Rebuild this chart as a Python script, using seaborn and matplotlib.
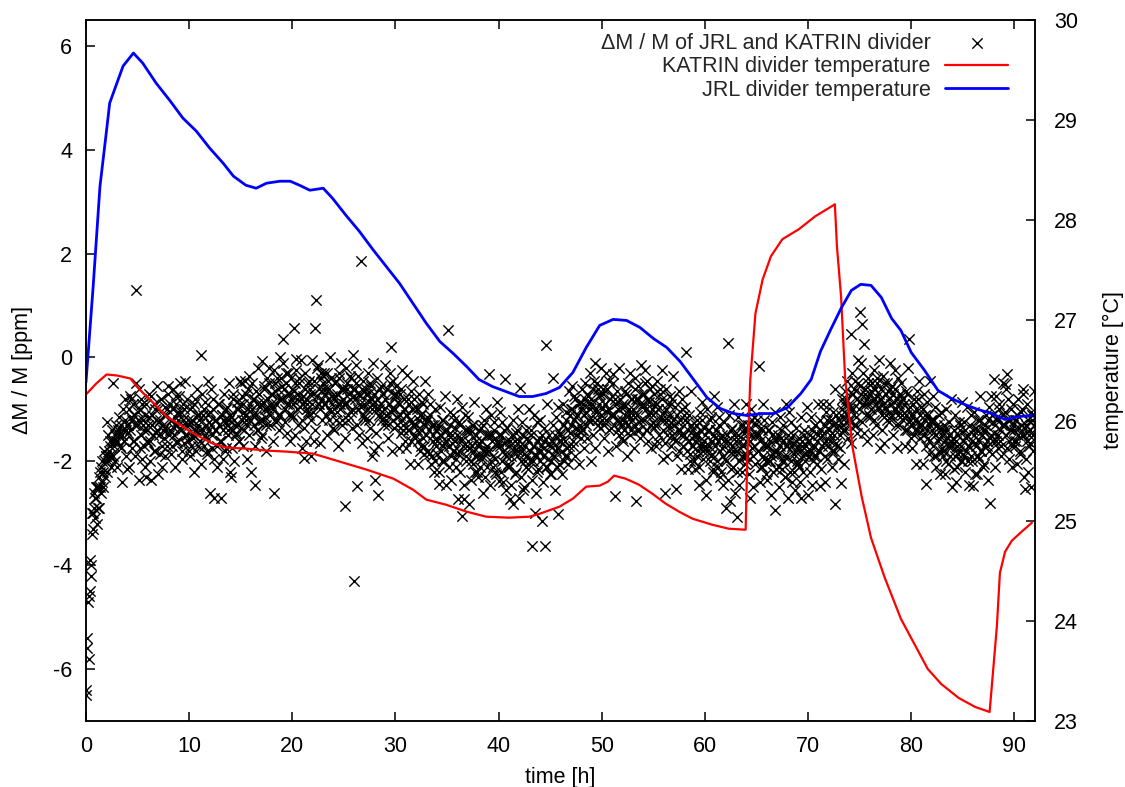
import numpy as np
import pandas as pd
import seaborn as sns
import matplotlib.pyplot as plt

# dM/M of JRL vs KATRIN divider, one reading every 3 min, kept as two
# interleaved lists: readings on the full 6-min grid and the ones between
sample_step_h = 0.1
dm_ppm = [
    -6.5, -5.6, -4.7, -4.6, -3.9, -4.2, -3.0, -3.3, -2.6, -3.1,     # 0 h
    -2.7, -2.5, -2.9, -2.3, -2.5, -2.1, -2.4, -2.2, -2.0, -1.9,
    -1.25, -2.0, -1.8, -1.7, -1.9, -1.6, -0.5, -1.7, -1.5, -1.6,
    -1.6, -1.4, -1.5, -1.7, -1.3, -1.5, -1.4, -1.6, -1.2, -1.4,
    -2.15, -1.3, -1.0, -1.4, -0.8, -1.2, -1.6, -1.1, -1.3, 1.3,
    -1.2, -2.35, -1.0, -1.5, -0.9, -1.3, -1.7, -1.1, -2.3, -1.4,   # 5 h
    -1.3, -0.7, -1.6, -2.35, -1.1, -1.5, -0.9, -1.8, -1.2, -1.4,
    -1.0, -1.5, -1.2, -0.8, -1.7, -1.3, -1.1, -1.9, -1.4, -1.0,
    -0.7, -1.4, -1.2, -1.7, -1.0, -1.5, -1.3, -0.9, -1.6, -1.2,
    -1.1, -0.5, -1.4, -1.8, -1.2, -1.0, -1.5, -1.3, -0.8, -1.6,
    -1.3, -1.0, -1.7, -1.2, -1.5, -0.9, -1.4, -1.8, -1.1, -1.3,    # 10 h
    -1.2, -1.6, 0.05, -1.4, -1.0, -1.5, -1.3, -1.8, -1.1, -1.4,
    -2.6, -1.3, -1.5, -1.0, -2.7, -1.4, -1.2, -1.7, -0.9, -1.3,
    -1.6, -2.7, -1.1, -1.4, -1.2, -1.8, -1.0, -1.3, -1.5, -1.2,
    -1.1, -2.3, -1.4, -0.8, -1.2, -1.5, -1.0, -1.3, -1.6, -0.9,
    -0.5, -1.2, -0.9, -1.4, -1.1, -0.7, -1.3, -1.0, -0.35, -1.2,   # 15 h
    -2.2, -1.0, -0.8, -1.3, -2.45, -1.1, -0.9, -1.4, -0.7, -1.2,
    -0.9, -0.06, -1.2, -0.6, -1.0, -1.3, -0.8, -0.5, -1.1, -0.9,
    -0.7, -1.0, -2.6, -0.5, -0.9, -1.2, -0.6, -0.8, -1.1, -0.4,
    -0.8, 0.35, -0.6, -1.0, -0.5, -0.9, -0.3, -1.1, -0.7, -0.8,
    -0.6, -0.9, 0.57, -0.5, -0.03, -1.0, -0.7, -0.4, -0.8, -1.2,   # 20 h
    -0.9, -1.93, -0.6, -0.8, -1.0, -0.5, -1.1, -0.7, -1.9, -0.9,
    -0.7, -1.6, 0.57, 1.1, -0.2, -0.9, -0.6, -1.0, -0.4, -0.8,
    -0.5, -0.9, -0.7, -1.1, -0.3, -0.8, -0.6, -1.0, -0.4, -0.9,
    -0.8, -0.5, -1.2, -0.7, -0.9, -0.4, -1.0, -0.6, -1.3, -0.8,
    -0.6, -2.86, -0.9, -0.5, -1.1, -0.7, -0.8, -0.4, -1.0, -0.6,   # 25 h
    -4.3, -0.8, -0.5, -2.47, -1.0, -0.7, -0.9, 1.86, -0.6, -1.1,
    -0.9, -0.6, -1.0, -0.7, -1.2, -0.5, -0.8, -1.9, -0.9, -0.7,
    -2.35, -1.0, -0.8, -2.64, -1.1, -0.6, -0.9, -1.2, -0.7, -1.0,
    -0.8, -1.1, -0.6, -1.3, -0.9, -0.5, 0.21, -1.0, -1.2, -0.7,
    -1.0, -0.7, -1.3, -0.9, -1.1, -0.6, -1.2, -1.4, -0.8, -1.0,    # 30 h
    -1.1, -0.33, -1.4, -0.9, -1.2, -1.6, -1.0, -1.3, -0.8, -1.5,
    -1.3, -1.0, -1.6, -1.2, -1.8, -1.1, -1.4, -0.9, -1.7, -1.3,
    -1.5, -1.2, -1.8, -1.4, -1.1, -1.9, -1.6, -1.3, -2.0, -1.4,
    -1.6, -1.3, -2.44, -1.5, -1.8, -1.2, -1.7, -2.0, -1.4, -1.6,
    -1.4, 0.53, -1.7, -1.3, -1.9, -1.5, -1.1, -1.8, -1.6, -2.1,    # 35 h
    -1.5, -2.73, -1.8, -1.3, -1.6, -3.05, -2.73, -1.4, -1.9, -1.7,
    -1.6, -2.83, -1.4, -2.0, -1.7, -1.3, -1.8, -2.2, -1.5, -1.9,
    -1.7, -1.4, -2.1, -1.6, -1.9, -1.3, -1.8, -2.3, -1.5, -1.7,
    -1.8, -0.32, -1.5, -2.0, -1.6, -1.9, -1.4, -2.2, -1.7, -1.6,
    -2.38, -1.7, -1.5, -2.0, -1.8, -1.4, -0.42, -1.9, -1.6, -2.1,  # 40 h
    -1.7, -2.73, -1.9, -1.5, -2.83, -1.8, -1.6, -2.2, -1.4, -1.8,
    -1.6, -0.58, -2.0, -1.8, -1.5, -2.5, -1.7, -2.1, -1.9, -1.6,
    -1.8, -1.5, -3.63, -2.0, -1.7, -2.99, -1.9, -2.2, -1.6, -1.8,
    -2.0, -1.7, -3.15, -1.9, -1.6, -3.63, 0.24, -2.1, -1.8, -1.5,
    -1.7, -2.0, -1.6, -0.39, -1.9, -1.5, -1.8, -2.1, -3.02, -1.6,  # 45 h
    -1.5, -1.8, -1.3, -2.0, -1.6, -1.2, -1.9, -1.4, -1.7, -1.1,
    -1.3, -1.0, -1.6, -1.2, -0.8, -1.5, -1.1, -1.4, -0.9, -1.3,
    -1.0, -0.6, -1.4, -1.1, -0.8, -1.3, -0.7, -1.2, -0.9, -1.0,
    -0.8, -1.2, -0.6, -0.1, -1.0, -0.5, -1.3, -0.9, -0.7, -1.1,
    -1.0, -0.7, -1.3, -0.9, -1.2, -0.6, -1.0, -1.4, -0.8, -1.1,    # 50 h
    -1.1, -0.32, -1.3, -2.67, -0.9, -1.2, -1.0, -1.5, -0.8, -1.3,
    -1.2, -0.9, -1.4, -1.1, -0.7, -1.3, -1.0, -1.5, -0.8, -1.2,
    -1.0, -1.3, -0.6, -2.76, -1.1, -0.8, -1.4, -0.9, -1.2, -0.7,
    -0.9, -1.2, -0.5, -1.0, -1.4, -0.8, -1.1, -0.6, -1.3, -1.0,
    -1.1, -0.7, -1.3, -0.9, -1.6, -1.0, -0.6, -1.2, -0.8, -1.4,    # 55 h
    -1.2, -2.6, -1.0, -1.5, -0.9, -1.3, -1.1, -1.7, -0.8, -1.2,
    -1.3, -1.6, -2.54, -1.1, -1.4, -1.8, -1.2, -1.5, -1.0, -1.7,
    -1.5, -1.2, 0.11, -1.8, -1.4, -1.6, -2.0, -1.3, -1.7, -1.5,
    -1.6, -1.3, -1.9, -1.5, -2.1, -1.4, -1.7, -1.2, -1.8, -1.6,
    -1.5, -2.64, -1.8, -1.4, -1.7, -1.2, -1.9, -1.6, -2.2, -1.5,   # 60 h
    -1.7, -1.4, -2.0, -1.6, -1.3, -1.8, -2.2, -1.5, -1.9, -1.6,
    -2.89, -1.6, 0.28, -1.8, -2.76, -1.4, -1.7, -2.1, -1.5, -1.9,
    -1.8, -3.08, -1.5, -2.0, -1.6, -1.3, -2.2, -1.7, -1.4, -1.9,
    -1.6, -2.0, -1.4, -1.8, -2.7, -1.5, -1.2, -1.9, -1.7, -1.3,
    -1.5, -1.8, -0.16, -1.6, -2.1, -1.4, -1.9, -1.2, -1.7, -2.0,   # 65 h
    -1.7, -1.4, -2.0, -1.6, -1.9, -1.5, -2.2, -1.8, -2.93, -1.6,
    -1.8, -1.5, -2.1, -1.7, -1.4, -2.0, -1.6, -1.9, -2.3, -1.7,
    -1.9, -2.7, -1.6, -2.0, -1.7, -1.5, -2.2, -1.8, -1.6, -2.0,
    -1.7, -2.1, -1.8, -2.7, -1.6, -1.9, -1.5, -2.0, -1.7, -1.8,
    -1.6, -1.9, -1.5, -1.8, -1.4, -2.0, -1.7, -1.3, -1.9, -1.6,    # 70 h
    -1.5, -1.8, -2.47, -1.4, -1.7, -1.3, -1.9, -1.6, -1.2, -1.7,
    -1.4, -1.6, -1.2, -1.8, -1.3, -1.5, -2.83, -1.1, -1.7, -1.3,
    -1.2, -1.5, -2.41, -1.0, -1.3, -0.9, -1.4, -0.8, -1.1, -1.2,
    -0.9, -1.2, 0.45, -0.7, -1.0, -0.6, -1.3, -0.8, -0.5, -1.0,
    0.87, -0.7, 0.64, -0.9, 0.26, -0.6, -1.1, -0.8, -0.5, -0.9,    # 75 h
    -0.7, -1.0, -0.5, -0.8, -1.2, -0.6, -0.9, -0.4, -1.0, -0.7,
    -0.8, -0.6, -1.1, -0.9, -0.5, -1.0, -0.7, -1.2, -0.8, -0.6,
    -0.9, -1.1, -0.7, -1.0, -0.6, -1.3, -0.8, -1.1, -0.9, -0.7,
    -1.0, -0.8, -1.2, -0.9, -1.4, -1.1, -0.7, -1.0, 0.35, -1.2,
    -1.1, -1.3, -0.9, -1.5, -1.2, -1.0, -1.4, -0.8, -1.3, -1.1,    # 80 h
    -1.3, -1.0, -1.5, -1.2, -2.44, -1.4, -1.1, -1.6, -1.3, -1.2,
    -1.4, -1.7, -1.2, -1.5, -1.9, -1.3, -1.6, -1.1, -1.8, -1.4,
    -1.5, -1.8, -1.3, -1.6, -2.0, -1.4, -1.7, -1.5, -1.9, -1.6,
    -1.7, -1.4, -1.9, -1.6, -2.1, -1.5, -1.8, -1.3, -1.7, -2.0,
    -1.6, -1.9, -1.4, -1.8, -1.5, -2.0, -1.7, -1.3, -1.9, -1.6,    # 85 h
    -2.47, -1.5, -2.25, -1.7, -1.4, -1.9, -1.6, -1.2, -1.8, -1.5,
    -1.4, -1.7, -1.3, -1.6, -1.2, -1.8, -2.8, -1.5, -1.1, -1.6,
    -0.42, -1.3, -1.6, -1.2, -1.5, -1.0, -1.4, -1.7, -1.3, -1.1,
    -1.3, -0.51, -1.5, -0.32, -1.2, -1.6, -1.4, -1.0, -1.7, -1.3,
    -1.4, -1.2, -1.6, -1.1, -1.5, -1.8, -1.3, -1.0, -0.71, -1.5,   # 90 h
    -2.54, -1.3, -1.6, -1.2, -1.7, -1.4, -2.5, -1.1, -1.5, -1.3,
]
# readings half way between the ones above (the looser part of the cloud)
dm_ppm_mid = [
    -6.4, -5.4, -5.8, -4.5, -4.0, -3.4, -3.0, -2.9, -2.7, -2.5,    # 0 h
    -3.2, -2.5, -2.9, -2.2, -2.6, -2.0, -2.5, -1.8, -2.3, -1.9,
    -2.2, -1.5, -1.9, -1.6, -2.1, -1.4, -1.9, -1.6, -2.0, -1.3,
    -2.1, -1.45, -1.15, -1.75, -2.4, -1.0, -1.6, -0.8, -1.9, -1.3,
    -1.45, -2.1, -0.75, -1.15, -1.75, -0.9, -1.6, -1.9, -0.5, -1.3,
    -1.05, -0.6, -1.75, -0.8, -1.95, -1.2, -1.4, -2.1, -0.9, -1.6,   # 5 h
    -1.65, -1.15, -2.0, -0.75, -1.3, -1.8, -1.0, -1.45, -0.55, -2.25,
    -1.25, -1.85, -0.8, -2.1, -1.4, -1.55, -0.95, -1.1, -1.7, -0.55,
    -1.5, -0.9, -1.85, -1.2, -0.6, -1.35, -2.1, -0.75, -1.65, -1.05,
    -0.75, -1.35, -1.05, -1.95, -0.9, -1.65, -0.45, -1.5, -1.2, -1.8,
    -1.9, -1.25, -0.95, -1.55, -2.2, -0.8, -1.4, -0.6, -1.7, -1.1,   # 10 h
    -1.4, -2.05, -0.7, -1.1, -1.7, -0.85, -1.55, -1.85, -0.45, -1.25,
    -1.05, -0.6, -1.75, -0.8, -1.95, -1.2, -1.4, -2.1, -0.9, -1.6,
    -1.6, -1.1, -1.95, -0.7, -1.25, -1.75, -0.95, -1.4, -0.5, -2.2,
    -1.15, -1.75, -0.7, -2.0, -1.3, -1.45, -0.85, -1.0, -1.6, -0.45,
    -1.35, -0.75, -1.7, -1.05, -0.45, -1.2, -1.95, -0.6, -1.5, -0.9,  # 15 h
    -0.5, -1.1, -0.8, -1.7, -0.65, -1.4, -0.2, -1.25, -0.95, -1.55,
    -1.5, -0.85, -0.55, -1.15, -1.8, -0.4, -1.0, -0.2, -1.3, -0.7,
    -0.95, -1.6, -0.25, -0.65, -1.25, -0.4, -1.1, -1.4, 0.0, -0.8,
    -0.55, -0.1, -1.25, -0.3, -1.45, -0.7, -0.9, -1.6, -0.4, -1.1,
    -1.15, -0.65, -1.5, -0.25, -0.8, -1.3, -0.5, -0.95, -0.05, -1.75,  # 20 h
    -0.75, -1.35, -0.3, -1.6, -0.9, -1.05, -0.45, -0.6, -1.2, -0.05,
    -1.05, -0.45, -1.4, -0.75, -0.15, -0.9, -1.65, -0.3, -1.2, -0.6,
    -0.3, -0.9, -0.6, -1.5, -0.45, -1.2, 0.0, -1.05, -0.75, -1.35,
    -1.4, -0.75, -0.45, -1.05, -1.7, -0.3, -0.9, -0.1, -1.2, -0.6,
    -0.9, -1.55, -0.2, -0.6, -1.2, -0.35, -1.05, -1.35, 0.05, -0.75,   # 25 h
    -0.6, -0.15, -1.3, -0.35, -1.5, -0.75, -0.95, -1.65, -0.45, -1.15,
    -1.2, -0.7, -1.55, -0.3, -0.85, -1.35, -0.55, -1.0, -0.1, -1.8,
    -0.85, -1.45, -0.4, -1.7, -1.0, -1.15, -0.55, -0.7, -1.3, -0.15,
    -1.2, -0.6, -1.55, -0.9, -0.3, -1.05, -1.8, -0.45, -1.35, -0.75,
    -0.55, -1.15, -0.85, -1.75, -0.7, -1.45, -0.25, -1.3, -1.0, -1.6,  # 30 h
    -1.75, -1.1, -0.8, -1.4, -2.05, -0.65, -1.25, -0.45, -1.55, -0.95,
    -1.4, -2.05, -0.7, -1.1, -1.7, -0.85, -1.55, -1.85, -0.45, -1.25,
    -1.15, -0.7, -1.85, -0.9, -2.05, -1.3, -1.5, -2.2, -1.0, -1.7,
    -1.85, -1.35, -2.2, -0.95, -1.5, -2.0, -1.2, -1.65, -0.75, -2.45,
    -1.5, -2.1, -1.05, -2.35, -1.65, -1.8, -1.2, -1.35, -1.95, -0.8,   # 35 h
    -1.85, -1.25, -2.2, -1.55, -0.95, -1.7, -2.45, -1.1, -2.0, -1.4,
    -1.15, -1.75, -1.45, -2.35, -1.3, -2.05, -0.85, -1.9, -1.6, -2.2,
    -2.3, -1.65, -1.35, -1.95, -2.6, -1.2, -1.8, -1.0, -2.1, -1.5,
    -1.8, -2.45, -1.1, -1.5, -2.1, -1.25, -1.95, -2.25, -0.85, -1.65,
    -1.5, -1.05, -2.2, -1.25, -2.4, -1.65, -1.85, -2.55, -1.35, -2.05,  # 40 h
    -2.1, -1.6, -2.45, -1.2, -1.75, -2.25, -1.45, -1.9, -1.0, -2.7,
    -1.7, -2.3, -1.25, -2.55, -1.85, -2.0, -1.4, -1.55, -2.15, -1.0,
    -2.0, -1.4, -2.35, -1.7, -1.1, -1.85, -2.6, -1.25, -2.15, -1.55,
    -1.2, -1.8, -1.5, -2.4, -1.35, -2.1, -0.9, -1.95, -1.65, -2.25,
    -2.25, -1.6, -1.3, -1.9, -2.55, -1.15, -1.75, -0.95, -2.05, -1.45,  # 45 h
    -1.6, -2.25, -0.9, -1.3, -1.9, -1.05, -1.75, -2.05, -0.65, -1.45,
    -1.0, -0.55, -1.7, -0.75, -1.9, -1.15, -1.35, -2.05, -0.85, -1.55,
    -1.4, -0.9, -1.75, -0.5, -1.05, -1.55, -0.75, -1.2, -0.3, -2.0,
    -0.9, -1.5, -0.45, -1.75, -1.05, -1.2, -0.6, -0.75, -1.35, -0.2,
    -1.2, -0.6, -1.55, -0.9, -0.3, -1.05, -1.8, -0.45, -1.35, -0.75,   # 50 h
    -0.5, -1.1, -0.8, -1.7, -0.65, -1.4, -0.2, -1.25, -0.95, -1.55,
    -1.6, -0.95, -0.65, -1.25, -1.9, -0.5, -1.1, -0.3, -1.4, -0.8,
    -1.1, -1.75, -0.4, -0.8, -1.4, -0.55, -1.25, -1.55, -0.15, -0.95,
    -0.7, -0.25, -1.4, -0.45, -1.6, -0.85, -1.05, -1.75, -0.55, -1.25,
    -1.35, -0.85, -1.7, -0.45, -1.0, -1.5, -0.7, -1.15, -0.25, -1.95,  # 55 h
    -1.05, -1.65, -0.6, -1.9, -1.2, -1.35, -0.75, -0.9, -1.5, -0.35,
    -1.55, -0.95, -1.9, -1.25, -0.65, -1.4, -2.15, -0.8, -1.7, -1.1,
    -0.95, -1.55, -1.25, -2.15, -1.1, -1.85, -0.65, -1.7, -1.4, -2.0,
    -2.15, -1.5, -1.2, -1.8, -2.45, -1.05, -1.65, -0.85, -1.95, -1.35,
    -1.7, -2.35, -1.0, -1.4, -2.0, -1.15, -1.85, -2.15, -0.75, -1.55,  # 60 h
    -1.4, -0.95, -2.1, -1.15, -2.3, -1.55, -1.75, -2.45, -1.25, -1.95,
    -2.0, -1.5, -2.35, -1.1, -1.65, -2.15, -1.35, -1.8, -0.9, -2.6,
    -1.6, -2.2, -1.15, -2.45, -1.75, -1.9, -1.3, -1.45, -2.05, -0.9,
    -1.9, -1.3, -2.25, -1.6, -1.0, -1.75, -2.5, -1.15, -2.05, -1.45,
    -1.2, -1.8, -1.5, -2.4, -1.35, -2.1, -0.9, -1.95, -1.65, -2.25,    # 65 h
    -2.35, -1.7, -1.4, -2.0, -2.65, -1.25, -1.85, -1.05, -2.15, -1.55,
    -1.85, -2.5, -1.15, -1.55, -2.15, -1.3, -2.0, -2.3, -0.9, -1.7,
    -1.5, -1.05, -2.2, -1.25, -2.4, -1.65, -1.85, -2.55, -1.35, -2.05,
    -2.05, -1.55, -2.4, -1.15, -1.7, -2.2, -1.4, -1.85, -0.95, -2.65,
    -1.6, -2.2, -1.15, -2.45, -1.75, -1.9, -1.3, -1.45, -2.05, -0.9,   # 70 h
    -1.8, -1.2, -2.15, -1.5, -0.9, -1.65, -2.4, -1.05, -1.95, -1.35,
    -0.9, -1.5, -1.2, -2.1, -1.05, -1.8, -0.6, -1.65, -1.35, -1.95,
    -1.75, -1.1, -0.8, -1.4, -2.05, -0.65, -1.25, -0.45, -1.55, -0.95,
    -1.0, -1.65, -0.3, -0.7, -1.3, -0.45, -1.15, -1.45, -0.05, -0.85,
    -0.55, -0.1, -1.25, -0.3, -1.45, -0.7, -0.9, -1.6, -0.4, -1.1,     # 75 h
    -1.15, -0.65, -1.5, -0.25, -0.8, -1.3, -0.5, -0.95, -0.05, -1.75,
    -0.8, -1.4, -0.35, -1.65, -0.95, -1.1, -0.5, -0.65, -1.25, -0.1,
    -1.15, -0.55, -1.5, -0.85, -0.25, -1.0, -1.75, -0.4, -1.3, -0.7,
    -0.5, -1.1, -0.8, -1.7, -0.65, -1.4, -0.2, -1.25, -0.95, -1.55,
    -1.75, -1.1, -0.8, -1.4, -2.05, -0.65, -1.25, -0.45, -1.55, -0.95,  # 80 h
    -1.4, -2.05, -0.7, -1.1, -1.7, -0.85, -1.55, -1.85, -0.45, -1.25,
    -1.2, -0.75, -1.9, -0.95, -2.1, -1.35, -1.55, -2.25, -1.05, -1.75,
    -1.9, -1.4, -2.25, -1.0, -1.55, -2.05, -1.25, -1.7, -0.8, -2.5,
    -1.55, -2.15, -1.1, -2.4, -1.7, -1.85, -1.25, -1.4, -2.0, -0.85,
    -1.85, -1.25, -2.2, -1.55, -0.95, -1.7, -2.45, -1.1, -2.0, -1.4,   # 85 h
    -1.05, -1.65, -1.35, -2.25, -1.2, -1.95, -0.75, -1.8, -1.5, -2.1,
    -2.05, -1.4, -1.1, -1.7, -2.35, -0.95, -1.55, -0.75, -1.85, -1.25,
    -1.45, -2.1, -0.75, -1.15, -1.75, -0.9, -1.6, -1.9, -0.5, -1.3,
    -1.05, -0.6, -1.75, -0.8, -1.95, -1.2, -1.4, -2.1, -0.9, -1.6,
    -1.7, -1.2, -2.05, -0.8, -1.35, -1.85, -1.05, -1.5, -0.6, -2.3,    # 90 h
    -1.35, -1.95, -0.9, -2.2, -1.5, -1.65, -1.05, -1.2, -1.8, -0.65,
]

# KATRIN divider temperature [degC]
katrin_t = [0, 1.0, 2.0, 3.0, 4.3, 5.2, 6.5, 7.8, 9.1, 10.1, 11.0, 12.3, 13.6,
            15.5, 17.5, 19.4, 22.0, 24.6, 27.2, 29.8, 31.7, 33.0, 34.9, 36.9,
            38.8, 41.0, 43.0, 44.0, 45.9, 47.2, 48.5, 49.8, 50.6, 51.2, 52.3,
            53.6, 54.9, 56.2, 57.5, 58.8, 60.7, 62.3, 63.95, 64.1, 64.4, 64.9,
            65.6, 66.4, 67.5, 69.1, 70.7, 72.3, 72.6, 72.8, 73.2, 73.6, 74.3,
            75.2, 76.1, 77.4, 79.0, 80.3, 81.6, 82.9, 84.6, 86.2, 87.6, 88.3,
            88.6, 89.1, 89.75, 90.7, 91.7]
katrin_temp = [26.26, 26.37, 26.46, 26.45, 26.42, 26.31, 26.18, 26.04, 25.96,
               25.89, 25.84, 25.77, 25.73, 25.72, 25.70, 25.69, 25.67, 25.59,
               25.51, 25.42, 25.31, 25.21, 25.16, 25.09, 25.04, 25.03, 25.04,
               25.07, 25.14, 25.22, 25.34, 25.35, 25.39, 25.45, 25.42, 25.36,
               25.27, 25.17, 25.09, 25.02, 24.96, 24.92, 24.91, 25.58, 26.41,
               27.07, 27.41, 27.64, 27.81, 27.91, 28.04, 28.14, 28.16, 27.74,
               27.24, 26.41, 25.74, 25.24, 24.83, 24.44, 24.02, 23.77, 23.52,
               23.37, 23.23, 23.14, 23.09, 23.94, 24.48, 24.69, 24.80, 24.89,
               24.98]

# JRL divider temperature [degC]
jrl_t = [0, 0.7, 1.36, 2.0, 2.3, 3.0, 3.6, 4.6, 5.5, 6.8, 8.1, 9.4, 10.7, 12.0,
         13.3, 14.3, 15.5, 16.5, 17.5, 18.8, 19.8, 20.7, 21.7, 23.0, 23.9, 25.2,
         26.5, 27.8, 29.1, 30.4, 31.7, 33.0, 34.3, 35.6, 36.9, 38.1, 39.4, 40.7,
         42.0, 43.3, 44.6, 45.9, 47.2, 48.5, 49.8, 51.1, 52.4, 53.7, 55.0, 56.3,
         57.6, 58.9, 60.2, 61.5, 62.8, 64.1, 65.4, 66.7, 68.0, 69.3, 70.3, 71.2,
         72.2, 73.2, 74.2, 75.1, 76.1, 77.1, 78.1, 79.0, 80.0, 81.3, 82.6, 83.9,
         85.2, 86.5, 87.8, 89.1, 90.4, 91.7]
jrl_temp = [26.38, 27.34, 28.34, 28.90, 29.17, 29.37, 29.54, 29.67, 29.57,
            29.37, 29.20, 29.02, 28.89, 28.72, 28.57, 28.44, 28.35, 28.32,
            28.37, 28.39, 28.39, 28.35, 28.30, 28.32, 28.22, 28.05, 27.89,
            27.71, 27.54, 27.37, 27.17, 26.97, 26.79, 26.67, 26.54, 26.41,
            26.34, 26.29, 26.24, 26.24, 26.27, 26.33, 26.48, 26.73, 26.95,
            27.01, 27.00, 26.93, 26.82, 26.73, 26.59, 26.41, 26.23, 26.12,
            26.07, 26.05, 26.07, 26.07, 26.13, 26.27, 26.41, 26.69, 26.91,
            27.12, 27.30, 27.36, 27.35, 27.23, 27.02, 26.90, 26.68, 26.50,
            26.30, 26.22, 26.16, 26.11, 26.07, 26.01, 26.04, 26.05]

t_grid = np.arange(len(dm_ppm)) * sample_step_h
dm = pd.concat([
    pd.DataFrame({"time": t_grid, "dm": dm_ppm}),
    pd.DataFrame({"time": t_grid + sample_step_h / 2, "dm": dm_ppm_mid}),
]).sort_values("time")
katrin = pd.DataFrame({"time": katrin_t, "temp": katrin_temp})
jrl = pd.DataFrame({"time": jrl_t, "temp": jrl_temp})

sns.set_style("ticks")
plt.rcParams['font.family'] = ['Liberation Sans', 'DejaVu Sans']
plt.rcParams['axes.unicode_minus'] = False
fs = 15.5

fig, ax = plt.subplots(figsize=(11.25, 7.87), dpi=100)
fig.subplots_adjust(left=0.0764, right=0.92, bottom=0.0839, top=0.9746)
ax2 = ax.twinx()

sns.scatterplot(data=dm, x="time", y="dm", marker="x", color="black", s=55,
                linewidth=1.0, ax=ax, label="ΔM / M of JRL and KATRIN divider",
                legend=False)
sns.lineplot(data=katrin, x="time", y="temp", color="#ff0000", linewidth=1.6,
             estimator=None, sort=False, ax=ax2, label="KATRIN divider temperature")
sns.lineplot(data=jrl, x="time", y="temp", color="#0000ff", linewidth=2.0,
             estimator=None, sort=False, ax=ax2, label="JRL divider temperature")

ax.set_xlim(0, 92)
ax.set_ylim(-7, 6.5)
ax2.set_ylim(23, 30)
ax.set_xticks(range(0, 100, 10))
ax.set_yticks(range(-6, 7, 2))
ax2.set_yticks(range(23, 31))

ax.set_xlabel("time [h]", fontsize=fs, color="black", labelpad=7)
ax.set_ylabel("ΔM / M [ppm]", fontsize=fs, color="black", labelpad=14)
ax2.set_ylabel("temperature [°C]", fontsize=fs, color="black", labelpad=18)

ax.tick_params(axis="both", direction="in", length=6.5, width=1.1,
               labelsize=fs, colors="black", pad=10)
ax.tick_params(axis="x", top=True, pad=11)
ax.tick_params(axis="y", right=False)
ax2.tick_params(axis="y", direction="in", length=6.5, width=1.1,
                labelsize=fs, colors="black", pad=13.5)
for a in (ax, ax2):
    for sp in a.spines.values():
        sp.set_visible(True)
        sp.set_linewidth(1.1)
        sp.set_color("black")

h1, l1 = ax.get_legend_handles_labels()
h2, l2 = ax2.get_legend_handles_labels()
ax2.legend(h1 + h2, l1 + l2, loc="upper right", bbox_to_anchor=(0.972, 0.982),
           frameon=False, markerfirst=False, fontsize=fs, handlelength=2.93,
           handletextpad=0.68, labelspacing=0.12, borderpad=0, borderaxespad=0)

fig.savefig("out.png", dpi=100)
